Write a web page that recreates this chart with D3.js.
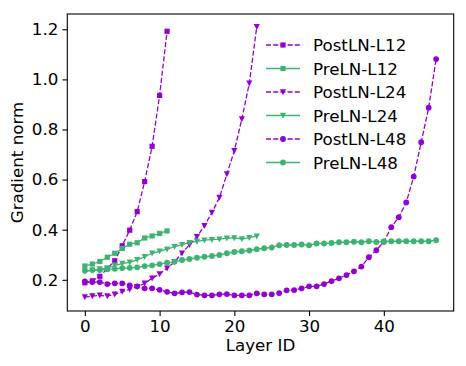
<!DOCTYPE html>
<html>
<head>
<meta charset="utf-8">
<script src="https://cdn.jsdelivr.net/npm/d3@7"></script>
<style>
  body { margin: 0; background: #fff; }
  svg { font-family: "DejaVu Sans", sans-serif; }
</style>
</head>
<body>
<div id="chart"></div>
<script>
// values (layer id = array index)
const postL12 = [0.188, 0.196, 0.214, 0.245, 0.276, 0.336, 0.398, 0.472, 0.592, 0.733, 0.936, 1.192];
const preL12 = [0.255, 0.263, 0.273, 0.290, 0.306, 0.325, 0.342, 0.348, 0.367, 0.375, 0.385, 0.395];
const postL24 = [0.131, 0.135, 0.138, 0.135, 0.142, 0.153, 0.162, 0.172, 0.186, 0.206, 0.223, 0.246,
  0.272, 0.306, 0.340, 0.372, 0.416, 0.468, 0.528, 0.622, 0.715, 0.842, 0.984, 1.21];
const preL24 = [0.234, 0.238, 0.243, 0.247, 0.258, 0.265, 0.270, 0.280, 0.292, 0.306, 0.314, 0.322,
  0.332, 0.340, 0.348, 0.353, 0.358, 0.360, 0.362, 0.366, 0.367, 0.363, 0.368, 0.374];
const postL48 = [0.194, 0.191, 0.191, 0.183, 0.186, 0.186, 0.178, 0.174, 0.166, 0.166,
  0.160, 0.152, 0.146, 0.150, 0.151, 0.141, 0.138, 0.138, 0.142, 0.143,
  0.138, 0.138, 0.138, 0.146, 0.142, 0.142, 0.147, 0.158, 0.159, 0.166,
  0.174, 0.174, 0.183, 0.195, 0.206, 0.219, 0.234, 0.253, 0.290, 0.318,
  0.352, 0.410, 0.450, 0.509, 0.612, 0.749, 0.887, 1.081];
const preL48 = [0.236, 0.239, 0.239, 0.242, 0.244, 0.247, 0.248, 0.250, 0.255, 0.258,
  0.263, 0.268, 0.272, 0.279, 0.283, 0.288, 0.292, 0.295, 0.299, 0.306,
  0.311, 0.314, 0.317, 0.322, 0.326, 0.329, 0.338, 0.339, 0.339, 0.341,
  0.338, 0.345, 0.345, 0.347, 0.350, 0.350, 0.352, 0.350, 0.354, 0.351,
  0.353, 0.354, 0.354, 0.354, 0.354, 0.354, 0.354, 0.358];

const seriesNames = ["PostLN-L12", "PreLN-L12", "PostLN-L24", "PreLN-L24", "PostLN-L48", "PreLN-L48"];
const seriesValues = [postL12, preL12, postL24, preL24, postL48, preL48];
const xTicks = [0, 10, 20, 30, 40];
const yTicks = [0.2, 0.4, 0.6, 0.8, 1.0, 1.2];

const purple = "#9400d3";
const green = "#3cb371";
const fontSize = "16.7px";

const width = 466, height = 366;
const margin = { top: 14, right: 12.3, bottom: 55, left: 67.3 };
const plotW = width - margin.left - margin.right;
const plotH = height - margin.top - margin.bottom;

const series = seriesNames.map((name, i) => ({
  name,
  values: seriesValues[i],
  post: name.startsWith("Post"),
  shape: ["square", "square", "tri", "tri", "circle", "circle"][i]
}));

const svg = d3.select("#chart").append("svg")
  .attr("width", width)
  .attr("height", height);

const g = svg.append("g")
  .attr("transform", `translate(${margin.left},${margin.top})`);

// matplotlib style 5% padding
const x = d3.scaleLinear().domain([-2.35, 49.35]).range([0, plotW]);
const y = d3.scaleLinear().domain([0.0755, 1.261]).range([plotH, 0]);

g.append("clipPath").attr("id", "clip")
  .append("rect").attr("width", plotW).attr("height", plotH);

const line = d3.line()
  .x((d, i) => x(i))
  .y(d => y(d));

function drawMarker(sel, shape, color) {
  if (shape === "square") {
    sel.append("rect")
      .attr("x", -2.6).attr("y", -2.6)
      .attr("width", 5.2).attr("height", 5.2)
      .attr("fill", color);
  } else if (shape === "circle") {
    sel.append("circle").attr("r", 2.9).attr("fill", color);
  } else {
    sel.append("path").attr("d", "M-3.1,-2.8L3.1,-2.8L0,3.2Z").attr("fill", color);
  }
}

const plot = g.append("g").attr("clip-path", "url(#clip)");

series.forEach(s => {
  const color = s.post ? purple : green;
  plot.append("path")
    .datum(s.values)
    .attr("fill", "none")
    .attr("stroke", color)
    .attr("stroke-width", 1.3)
    .attr("stroke-dasharray", s.post ? "5,2.2" : null)
    .attr("d", line);
  plot.selectAll(null)
    .data(s.values)
    .enter()
    .append("g")
    .attr("transform", (d, i) => `translate(${x(i)},${y(d)})`)
    .each(function() { drawMarker(d3.select(this), s.shape, color); });
});

// axes
const xAxis = g.append("g")
  .attr("transform", `translate(0,${plotH})`)
  .call(d3.axisBottom(x).tickValues(xTicks).tickSize(4.9).tickPadding(4));
const yAxis = g.append("g")
  .call(d3.axisLeft(y).tickValues(yTicks).tickFormat(d3.format(".1f")).tickSize(4.9).tickPadding(4));

[xAxis, yAxis].forEach(a => {
  a.select(".domain").remove();
  a.selectAll("line").attr("stroke", "#000").attr("stroke-width", 1.1);
  a.selectAll("text").attr("fill", "#000").style("font-size", fontSize)
    .style("font-family", "DejaVu Sans");
});

g.append("rect")
  .attr("width", plotW).attr("height", plotH)
  .attr("fill", "none").attr("stroke", "#000").attr("stroke-width", 1.1);

svg.append("text")
  .attr("x", margin.left + plotW / 2)
  .attr("y", 351)
  .attr("text-anchor", "middle")
  .style("font-size", fontSize)
  .text("Layer ID");

svg.append("text")
  .attr("transform", `translate(23.3,${margin.top + plotH / 2}) rotate(-90)`)
  .attr("text-anchor", "middle")
  .style("font-size", fontSize)
  .text("Gradient norm");

// legend
const legend = svg.append("g");
series.forEach((s, i) => {
  const color = s.post ? purple : green;
  const row = legend.append("g").attr("transform", `translate(266,${45 + i * 23.5})`);
  row.append("line")
    .attr("x1", 0).attr("x2", 34)
    .attr("stroke", color).attr("stroke-width", 1.3)
    .attr("stroke-dasharray", s.post ? "5,2.2" : null);
  const m = row.append("g").attr("transform", "translate(17,0)");
  drawMarker(m, s.shape, color);
  row.append("text")
    .attr("x", 47).attr("y", 6)
    .style("font-size", fontSize)
    .text(s.name);
});
</script>
</body>
</html>
